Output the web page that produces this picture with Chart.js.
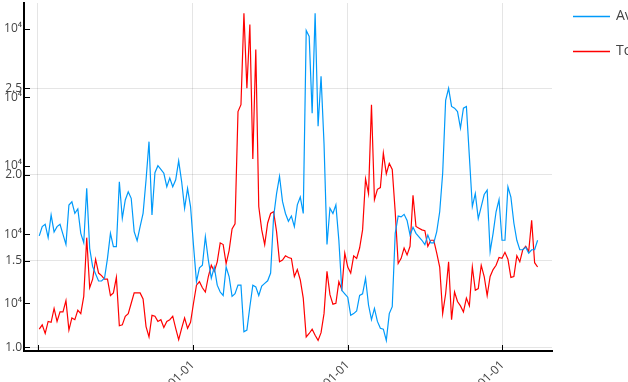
<!DOCTYPE html>
<html lang="en">
<head>
  <meta charset="UTF-8">
  <title>AveragePrice / Total Volume</title>
  <script src="https://cdn.jsdelivr.net/npm/chart.js"></script>
  <style>
    html, body { margin: 0; padding: 0; background: #fff; overflow: hidden; }
  </style>
</head>
<body>
  <canvas id="canvas_grafico" width="700" height="420"></canvas>

  <script>
    // weekly points, x = days since 2015-01-01 (first week 2015-01-04)
    const startDay = 3;
    const stepDays = 7;

    const averagePrice = [
      16450, 16990, 17120, 16350, 17660, 16680, 16990, 17120, 16540, 15960,
      18240, 18430, 17760, 18010, 16600, 16060, 19210, 15730, 14670, 14250,
      13840, 13840, 14000, 15150, 16600, 15830, 15830, 19590, 17470, 18530,
      19010, 18630, 16700, 16180, 16990, 17760, 19690, 21910, 17660, 20110,
      20520, 20310, 20080, 19300, 19800, 19300, 19700, 20800, 19600, 18050,
      19200, 18150, 15900, 13800, 14600, 14750, 16400, 15050, 14000, 14650,
      13600, 13200, 13000, 14650, 14100, 12950, 13100, 13600, 13600, 10900,
      11000, 12350, 13600, 13500, 13000, 13550, 13700, 13850, 14300, 17550,
      18900, 19900, 18450, 17750, 17300, 17600, 16990, 18250, 18700, 17750,
      28350, 28000, 23550, 29350, 22800, 25700, 21800, 15950, 18050, 17750,
      18250, 16200, 13300, 13100, 12900, 11850, 11950, 12100, 13000, 13100,
      14000, 12450, 11600, 12250, 11500, 11100, 11050, 10400, 11950, 12350,
      16600, 17600, 17550, 17700, 17350, 16500, 16950, 16600, 16400, 16200,
      15950, 16500, 16050, 16050, 16700, 17850, 20080, 24300, 25000, 23950,
      23850, 23650, 22700, 23850, 23950, 21050, 18150, 18900, 17450, 18150,
      18850, 19100, 15550, 16600, 17850, 18550, 16200, 16200, 19300, 18700,
      17200, 16200, 15650, 15650, 15800, 15450, 15650, 15650, 16200
    ];

    const totalVolume = [
      11050, 11300, 10800, 11500, 11450, 12250, 11500, 12050, 12050, 12700,
      11000, 11700, 11600, 12150, 11950, 12950, 16350, 13450, 13950, 15100,
      14300, 14150, 13950, 13950, 13000, 13150, 14050, 11250, 11300, 11800,
      11950, 12550, 13150, 13150, 13150, 12800, 11200, 10600, 11850, 11800,
      11500, 11600, 11150, 11500, 11600, 11800, 11100, 10450, 11100, 11700,
      11100, 11450, 12550, 13600, 13800, 13450, 13200, 14100, 14750, 14400,
      14950, 16050, 15950, 14850, 15600, 16850, 17150, 23650, 24050, 29350,
      25000, 28700, 20900, 27250, 18150, 16800, 15950, 17200, 17750, 17850,
      16700, 14950, 15050, 15300, 15200, 15150, 14100, 14500, 13900, 12850,
      10600, 10800, 11050, 10700, 10400, 10850, 11950, 14400, 13050, 12500,
      12550, 13800, 13350, 15450, 14650, 14300, 15300, 15150, 15750, 16800,
      19750, 18900, 24050, 18550, 19150, 19250, 21250, 20050, 20650, 20300,
      17850, 14850, 15150, 15750, 15350, 15850, 18800, 17000, 16900, 16800,
      16750, 15850, 16200, 16200, 15450, 14650, 11950, 13100, 14950, 11600,
      13200, 12650, 12400, 12050, 12850, 12400, 14650, 13300, 13400, 14750,
      14100, 13000, 14100, 14500, 14750, 15200, 15150, 15500, 15100, 14050,
      14100, 15300, 14950, 15650, 15850, 15550, 17350, 14900, 14650
    ];

    const seriesNames = ['AveragePrice', 'Total Volume'];
    const seriesColors = ['#009AFA', '#FF0000'];

    const xTickDays = [0, 365, 731, 1096];
    const xTickLabels = ['', '2016-01-01', '2017-01-01', '2018-01-01'];

    const yMainTicks = [10000, 15000, 20000, 25000];
    const yMainLabels = ['1.0', '1.5', '2.0', '2.5'];
    const yExtraTicks = [12550, 16540, 20500, 24480, 28440];
    const yExtraLabel = '10\u2074';

    function pontos(valores) {
      return valores.map((v, i) => ({ x: startDay + i * stepDays, y: v }));
    }

    // small tick marks drawn inside the plot area
    const ticksDentro = {
      id: 'ticksDentro',
      afterDatasetsDraw(chart) {
        const { ctx, chartArea, scales } = chart;
        ctx.save();
        ctx.strokeStyle = '#000';
        ctx.lineWidth = 1;
        scales.y.ticks.forEach(t => {
          const y = Math.round(scales.y.getPixelForValue(t.value)) + 0.5;
          ctx.beginPath();
          ctx.moveTo(chartArea.left, y);
          ctx.lineTo(chartArea.left + 6, y);
          ctx.stroke();
        });
        scales.x.ticks.forEach(t => {
          const x = Math.round(scales.x.getPixelForValue(t.value)) + 0.5;
          ctx.beginPath();
          ctx.moveTo(x, chartArea.bottom);
          ctx.lineTo(x, chartArea.bottom - 6);
          ctx.stroke();
        });
        ctx.restore();
      }
    };

    // legend at the right, outside the plot
    const legendaDireita = {
      id: 'legendaDireita',
      afterDraw(chart) {
        const { ctx, chartArea } = chart;
        const x0 = chartArea.right + 21;
        ctx.save();
        chart.data.datasets.forEach((ds, i) => {
          const y = 16.5 + i * 35;
          ctx.strokeStyle = ds.borderColor;
          ctx.lineWidth = 1.5;
          ctx.beginPath();
          ctx.moveTo(x0, y);
          ctx.lineTo(x0 + 37, y);
          ctx.stroke();
          ctx.fillStyle = '#444';
          ctx.font = '14px "Open Sans"';
          ctx.textBaseline = 'middle';
          ctx.fillText(ds.label, x0 + 43, y);
        });
        ctx.restore();
      }
    };

    const fonteEixo = { family: '"Open Sans"', size: 12 };

    new Chart(document.getElementById('canvas_grafico'), {
      type: 'line',
      data: {
        datasets: [
          {
            label: seriesNames[0],
            data: pontos(averagePrice),
            borderColor: seriesColors[0],
            backgroundColor: seriesColors[0],
            borderWidth: 1.2,
            pointRadius: 0,
            tension: 0
          },
          {
            label: seriesNames[1],
            data: pontos(totalVolume),
            borderColor: seriesColors[1],
            backgroundColor: seriesColors[1],
            borderWidth: 1.2,
            pointRadius: 0,
            tension: 0
          }
        ]
      },
      options: {
        responsive: false,
        devicePixelRatio: 1,
        animation: false,
        layout: { padding: { top: 3, right: 148, left: 0, bottom: 0 } },
        plugins: {
          legend: { display: false },
          tooltip: { enabled: false }
        },
        scales: {
          x: {
            type: 'linear',
            min: -33,
            max: 1213,
            afterBuildTicks: s => { s.ticks = xTickDays.map(v => ({ value: v })); },
            afterFit: s => {
              s.height = 420 - 351;
              s.paddingLeft = 0;
              s.paddingRight = 0;
            },
            ticks: {
              autoSkip: false,
              minRotation: 45,
              maxRotation: 45,
              padding: 7,
              color: '#444',
              font: fonteEixo,
              callback: (v, i) => xTickLabels[i]
            },
            grid: { color: 'rgba(0,0,0,0.1)', drawTicks: false },
            border: { color: '#000', width: 2 }
          },
          y: {
            type: 'linear',
            min: 9786,
            max: 29940,
            afterBuildTicks: s => {
              s.ticks = yMainTicks.concat(yExtraTicks).sort((a, b) => a - b).map(v => ({ value: v }));
            },
            afterFit: s => {
              s.width = 24;
              s.paddingTop = 0;
              s.paddingBottom = 0;
            },
            ticks: {
              autoSkip: false,
              padding: 2,
              color: '#444',
              font: fonteEixo,
              callback: v => {
                const k = yMainTicks.indexOf(v);
                return k >= 0 ? yMainLabels[k] : yExtraLabel;
              }
            },
            grid: {
              drawTicks: false,
              color: c => (c.tick && yMainTicks.includes(c.tick.value)) ? 'rgba(0,0,0,0.1)' : 'rgba(0,0,0,0)'
            },
            border: { color: '#000', width: 2 }
          }
        }
      },
      plugins: [ticksDentro, legendaDireita]
    });
  </script>
</body>
</html>
